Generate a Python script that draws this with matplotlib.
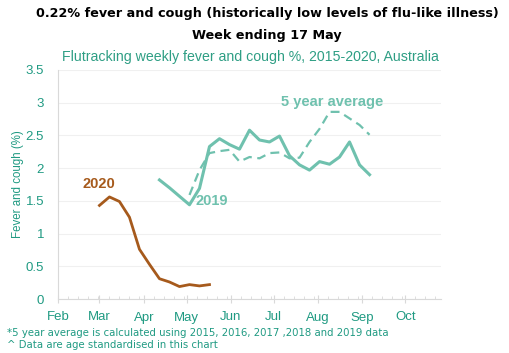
import matplotlib
matplotlib.use("Agg")
import matplotlib.pyplot as plt
import matplotlib.dates as mdates
import numpy as np
import pandas as pd

# ---- data ----
dates_2020 = pd.date_range("2020-03-01", periods=12, freq="7D")
vals_2020 = [1.43, 1.56, 1.49, 1.25, 0.76, 0.53, 0.31, 0.26, 0.19, 0.22, 0.20, 0.22]

dates_2019 = pd.date_range("2020-04-12", periods=22, freq="7D")
vals_2019 = [1.82, 1.70, 1.57, 1.44, 1.69, 2.33, 2.45, 2.36, 2.29, 2.58, 2.43, 2.40,
             2.49, 2.19, 2.05, 1.97, 2.10, 2.06, 2.17, 2.40, 2.05, 1.90]

dates_avg = pd.date_range("2020-05-03", periods=19, freq="7D")
vals_avg = [1.59, 1.97, 2.23, 2.26, 2.28, 2.10, 2.17, 2.15, 2.23, 2.24, 2.15, 2.16,
            2.40, 2.60, 2.86, 2.86, 2.76, 2.66, 2.51]

month_ticks = pd.date_range("2020-02-01", "2020-10-01", freq="MS")
month_labels = ["Feb", "Mar", "Apr", "May", "Jun", "Jul", "Aug", "Sep", "Oct"]
y_ticks = [0, 0.5, 1, 1.5, 2, 2.5, 3, 3.5]
y_labels = ["0", "0.5", "1", "1.5", "2", "2.5", "3", "3.5"]

TEAL_LINE = "#6fc1ae"
TEAL_TEXT = "#1f9a82"
BROWN = "#a65a1c"

fig = plt.figure(figsize=(5.09, 3.53), dpi=100)
ax = fig.add_axes([58/509, 1-299/353, (441-58)/509, (299-70)/353])

ax.plot(dates_2020, vals_2020, color=BROWN, lw=2.0, solid_joinstyle="round")
ax.plot(dates_2019, vals_2019, color=TEAL_LINE, lw=2.2, solid_joinstyle="round")
ax.plot(dates_avg, vals_avg, color=TEAL_LINE, lw=1.6, ls=(0, (4, 2.5)))

ax.set_ylim(0, 3.5)
ax.set_xlim(pd.Timestamp("2020-02-01"), pd.Timestamp("2020-10-26"))
ax.set_yticks(y_ticks)
ax.set_yticklabels(y_labels)
ax.set_xticks(month_ticks)
ax.set_xticklabels(month_labels)
ax.xaxis.set_minor_locator(mdates.DayLocator(bymonthday=[1, 8, 15, 22, 29]))

ax.grid(axis="y", color="#f0f0f0", lw=0.8)
ax.set_axisbelow(True)
for s in ["top", "right"]:
    ax.spines[s].set_visible(False)
ax.spines["left"].set_color("#d9d9d9")
ax.spines["bottom"].set_color("#d9d9d9")
ax.tick_params(axis="y", length=0, labelsize=9.5, labelcolor=TEAL_TEXT, pad=10)
ax.tick_params(axis="x", which="major", direction="inout", length=6, color="#d9d9d9",
               labelsize=9.5, labelcolor=TEAL_TEXT, pad=6)
ax.tick_params(axis="x", which="minor", direction="in", length=2.5, color="#d9d9d9")
for lab in ax.get_xticklabels() + ax.get_yticklabels():
    lab.set_family("Liberation Sans")

ax.set_ylabel("Fever and cough (%)", color=TEAL_TEXT, fontsize=8.3, family="Liberation Sans",
              labelpad=2)
ax.yaxis.set_label_coords(-0.088, 0.5)

ax.text(pd.Timestamp("2020-02-18"), 1.76, "2020", color=BROWN, fontsize=10.5,
        fontweight="bold", family="Liberation Sans", ha="left", va="center")
ax.text(pd.Timestamp("2020-05-07"), 1.50, "2019", color=TEAL_LINE, fontsize=10.5,
        fontweight="bold", family="Liberation Sans", ha="left", va="center")
ax.text(pd.Timestamp("2020-07-06"), 3.01, "5 year average", color=TEAL_LINE, fontsize=10.5,
        fontweight="bold", family="Liberation Sans", ha="left", va="center")

fig.text(267/509, 1-13/353, "0.22% fever and cough (historically low levels of flu-like illness)",
         ha="center", va="center", fontsize=9.2, fontweight="bold", color="black",
         family="DejaVu Sans")
fig.text(267/509, 1-36/353, "Week ending 17 May", ha="center", va="center",
         fontsize=9.2, fontweight="bold", color="black", family="DejaVu Sans")
fig.text(250.5/509, 1-57/353, "Flutracking weekly fever and cough %, 2015-2020, Australia",
         ha="center", va="center", fontsize=10.2, color="#2e9e84", family="Liberation Sans")

fig.text(7/509, 1-333/353, "*5 year average is calculated using 2015, 2016, 2017 ,2018 and 2019 data",
         ha="left", va="center", fontsize=7.3, color=TEAL_TEXT, family="DejaVu Sans")
fig.text(7/509, 1-345/353, "^ Data are age standardised in this chart",
         ha="left", va="center", fontsize=7.3, color=TEAL_TEXT, family="DejaVu Sans")

fig.savefig("out.png", dpi=100)
